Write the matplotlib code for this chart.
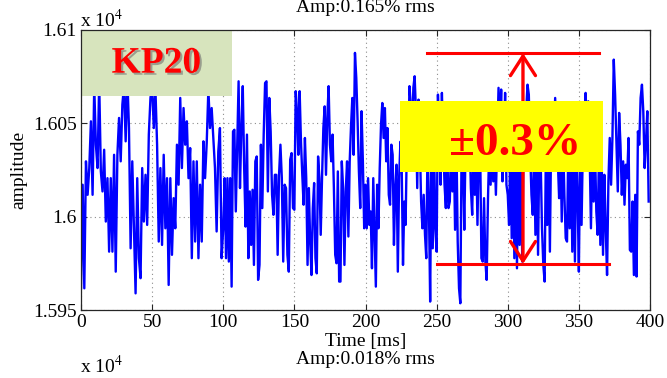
import numpy as np
import matplotlib
matplotlib.use("Agg")
import matplotlib.pyplot as plt
import matplotlib.patheffects as pe
from matplotlib.patches import Rectangle

plt.rcParams['font.family'] = ['Liberation Serif', 'DejaVu Serif']

# ---- data: amplitude readings (raw units), one list per 50 ms stretch ----
amp_000_050 = [15961.6, 16017.0, 15961.6, 16029.5, 16011.6, 16025.9, 16050.9, 16011.6, 16070.0, 16038.4,
               16025.9, 16072.0, 16024.1, 16013.4, 16035.7, 15997.3, 16020.5, 15981.2, 16020.5, 15981.2,
               16033.0, 15970.5, 16033.0, 16052.7, 16029.5, 16059.8, 16070.0, 16040.2, 16075.0, 16047.3,
               15983.0, 16029.5, 15993.7, 15958.9, 16020.5, 15977.7, 15967.0, 16025.9, 15997.3, 16022.3,
               15995.5, 16043.8, 16063.4]
amp_050_100 = [16070.0, 16047.3, 16068.0, 16038.4, 15986.6, 16025.9, 15984.8, 16033.0, 15993.7, 16020.5,
               15963.4, 16020.5, 15979.5, 16009.8, 15993.7, 16038.4, 16017.0, 16063.4, 16025.9, 16058.0,
               16038.4, 16050.9, 16020.5, 16036.6, 15977.7, 16029.5, 15986.6, 16029.5, 15977.7, 16017.0,
               15986.6, 16040.2, 16020.5, 16039.3, 16068.0, 16047.3, 16058.0, 16042.0, 16025.9, 15992.0,
               16034.8, 16047.3, 15977.7]
amp_100_150 = [15993.7, 16020.5, 15977.7, 16020.5, 15975.9, 16020.5, 15962.5, 16045.5, 16046.4, 16002.7,
               16036.6, 16072.3, 16015.2, 16047.3, 16069.7, 16025.9, 15994.6, 16043.8, 15977.7, 16013.4,
               15984.8, 16014.3, 15974.1, 16029.5, 16032.1, 15966.1, 15974.1, 16038.4, 16004.5, 16043.8,
               16071.4, 16072.3, 16013.4, 16063.4, 16045.5, 16011.6, 16000.9, 16022.3, 16022.3, 15979.5,
               16022.3, 16038.4, 16020.5, 15975.9, 16017.0, 16015.2, 15979.5, 15970.5, 16030.4, 16033.9,
               16004.5]
amp_150_200 = [16003.6, 16067.0, 16056.3, 16033.0, 16067.0, 16040.2, 16022.3, 16006.3, 16042.0, 16020.5,
               15974.1, 16015.2, 15986.6, 15968.7, 16004.5, 16017.9, 15977.7, 15969.6, 16032.1, 16020.5,
               15990.2, 16020.5, 16047.3, 16058.9, 16022.3, 16052.7, 16069.7, 16038.4, 16029.5, 16043.8,
               16015.2, 15979.5, 15975.0, 16024.1, 15965.2, 15965.2, 16029.5, 16015.2, 15974.1, 16013.4,
               16029.5, 15989.3, 16029.5, 16048.2, 16063.4, 16033.0, 16087.5, 16074.1, 16050.9, 16024.1,
               16004.5, 16056.3, 16029.5, 15993.7]
amp_200_250 = [16017.0, 15993.7, 16020.5, 15995.5, 16002.7, 15972.3, 16020.5, 15990.2, 15962.5, 16017.0,
               15993.7, 16025.9, 16049.1, 16060.7, 16042.0, 16058.0, 16029.5, 16047.3, 16011.6, 16006.3,
               16038.4, 16033.0, 15984.8, 16015.2, 16027.7, 15970.5, 16020.5, 16040.0, 16025.9, 15974.1,
               16008.0, 15995.5, 16040.0, 16033.0, 16069.7, 16059.8, 16040.0, 16068.8, 16075.0, 16056.3,
               16015.2, 16062.5, 16040.0, 16008.0, 15993.7, 16011.6, 15990.2, 15977.7, 16040.0, 16008.0,
               15954.5, 16040.0, 15983.0, 16040.0, 15993.7]
amp_250_300 = [15981.2, 16065.2, 16040.0, 16017.0, 16066.1, 16040.0, 16017.0, 16004.5, 16040.0, 16004.5,
               16008.0, 16042.0, 16013.4, 16040.0, 15992.9, 16042.0, 15986.6, 15961.6, 15953.6, 16040.0,
               16030.0, 15992.9, 16040.0, 16047.3, 16030.0, 16043.8, 16015.2, 16000.9, 16040.0, 16011.6,
               16040.0, 15995.5, 16038.0, 16040.0, 15977.7, 15975.9, 16009.8, 15975.9, 15966.1, 16009.8,
               16038.0, 16017.0, 16040.0, 16018.8, 16036.0, 16011.6, 16040.0, 16068.8, 16045.5, 16067.9,
               16018.8, 16038.4, 16066.1, 16017.0]
amp_300_350 = [16011.6, 15995.5, 16042.0, 15988.4, 16042.0, 15977.7, 16040.0, 15972.3, 16038.0, 15984.8,
               16044.0, 15975.9, 16040.0, 16047.3, 16056.3, 16070.5, 16065.2, 16035.0, 16011.6, 16000.9,
               16040.0, 15990.2, 16042.0, 15979.5, 16038.0, 16030.0, 15993.7, 15974.1, 15965.2, 16040.0,
               15995.5, 16044.0, 15981.2, 16047.3, 16036.0, 16040.0, 16063.4, 16034.0, 16030.0, 16009.8,
               16040.0, 15997.3, 16042.0, 16011.6, 15988.4, 15986.6, 16040.0, 15993.7, 16038.0, 15981.2,
               16042.0, 15975.9, 16040.0, 16011.6]
amp_350_400 = [15970.5, 16040.0, 15995.5, 16040.0, 16030.0, 16066.1, 16047.3, 16061.6, 16035.0, 15993.7,
               16040.0, 16008.0, 16038.0, 16002.7, 15990.2, 16036.0, 15984.8, 16030.0, 15979.5, 16022.3,
               15993.7, 15968.7, 16018.8, 16042.0, 16017.0, 16042.0, 16083.9, 16065.2, 16038.4, 16013.4,
               16055.4, 16038.4, 16011.6, 16029.5, 16006.3, 16027.7, 16020.5, 16042.0, 15982.1, 15981.2,
               16008.0, 15968.7, 16011.6, 15967.9, 16045.5, 16038.4, 16063.4, 16070.5, 16056.3, 16025.9,
               16040.2, 16056.3, 16008.0]

segments = [amp_000_050, amp_050_100, amp_100_150, amp_150_200,
            amp_200_250, amp_250_300, amp_300_350, amp_350_400]
segment_starts_ms = [0, 50, 100, 150, 200, 250, 300, 350]
segment_length_ms = 50

x_ticks = [0, 50, 100, 150, 200, 250, 300, 350, 400]
y_ticks = [15950, 16000, 16050, 16100]
y_tick_labels = ["1.595", "1.6", "1.605", "1.61"]

title_top = "Amp:0.165% rms"
title_next = "Amp:0.018% rms"
badge_text = "KP20"
band_text = "\u00b10.3%"

# ---- build time axis (sampling grid) ----
t_list, a_list = [], []
for start, seg in zip(segment_starts_ms, segments):
    n = len(seg)
    t_list.append(start + segment_length_ms * np.arange(n) / n)
    a_list.append(np.asarray(seg))
time_ms = np.concatenate(t_list)
amp = np.concatenate(a_list)

# ---- figure ----
W, H = 667, 378
fig = plt.figure(figsize=(W / 100, H / 100), dpi=100)
L, R, T, B = 81, 650, 29.5, 310
ax = fig.add_axes([L / W, 1 - B / H, (R - L) / W, (B - T) / H])

ax.plot(time_ms, amp, color="#0000ff", lw=1.7, zorder=2)
ax.set_xlim(0, 400)
ax.set_ylim(15950, 16100)
ax.set_xticks(x_ticks)
ax.set_yticks(y_ticks)
ax.set_yticklabels(y_tick_labels)
ax.tick_params(direction="in", length=4, width=0.8, top=True, right=True,
               labelsize=14, colors="#262626", labelcolor="black", pad=3)
ax.grid(True, linestyle=(0, (1, 3)), color="#8c8c8c", lw=0.8)
for s in ax.spines.values():
    s.set_color("#262626")
    s.set_linewidth(0.9)

ax.set_xlabel("Time [ms]", fontsize=14, labelpad=1)
ax.set_ylabel("amplitude", fontsize=14, labelpad=4)

# exponent label
fig.text(80 / W, 1 - 20 / H, r"x 10$^{4}$", fontsize=14, ha="left", va="center",
         math_fontfamily="stix")
# top title (partly cut, as in the reference)
fig.text(365.5 / W, 1 - 7 / H, title_top, fontsize=14, ha="center", va="center")
# next panel pieces at bottom
fig.text(365.5 / W, 1 - 360 / H, title_next, fontsize=14, ha="center", va="center")
fig.text(80 / W, 0.003, r"x 10$^{4}$", fontsize=14, ha="left", va="bottom",
         math_fontfamily="stix")

# KP20 badge
ax.add_patch(Rectangle((0, 16064.4), 106.2, 35.6, facecolor="#d7e4bd", edgecolor="none",
                       zorder=2.2))
ax.text(53, 16082, badge_text, color="#ff0000", fontsize=27, fontweight="bold",
        ha="center", va="center", zorder=3,
        path_effects=[pe.withSimplePatchShadow(offset=(1.5, -1.5), shadow_rgbFace="#707070", alpha=0.6)])

# red band lines and arrow
ax.plot([243.2, 364.2], [16087.4, 16087.4], color="#ff0000", lw=2.2, zorder=3)
ax.plot([250.3, 371.2], [15974.6, 15974.6], color="#ff0000", lw=2.2, zorder=3)
ax.annotate("", xy=(310.7, 16087.4), xytext=(310.7, 15974.6),
            arrowprops=dict(arrowstyle="<->,head_length=0.7,head_width=0.45",
                            color="#ff0000", lw=2.4, mutation_scale=20,
                            shrinkA=0, shrinkB=0), zorder=3)

# yellow box
ax.add_patch(Rectangle((224.4, 16023.7), 142.8, 38.3, facecolor="#ffff00", edgecolor="none",
                       zorder=3.5))
ax.text(305, 16039, band_text, color="#ff0000", fontsize=34, fontweight="bold",
        ha="center", va="center", zorder=4)

fig.savefig("out.png", dpi=100)
